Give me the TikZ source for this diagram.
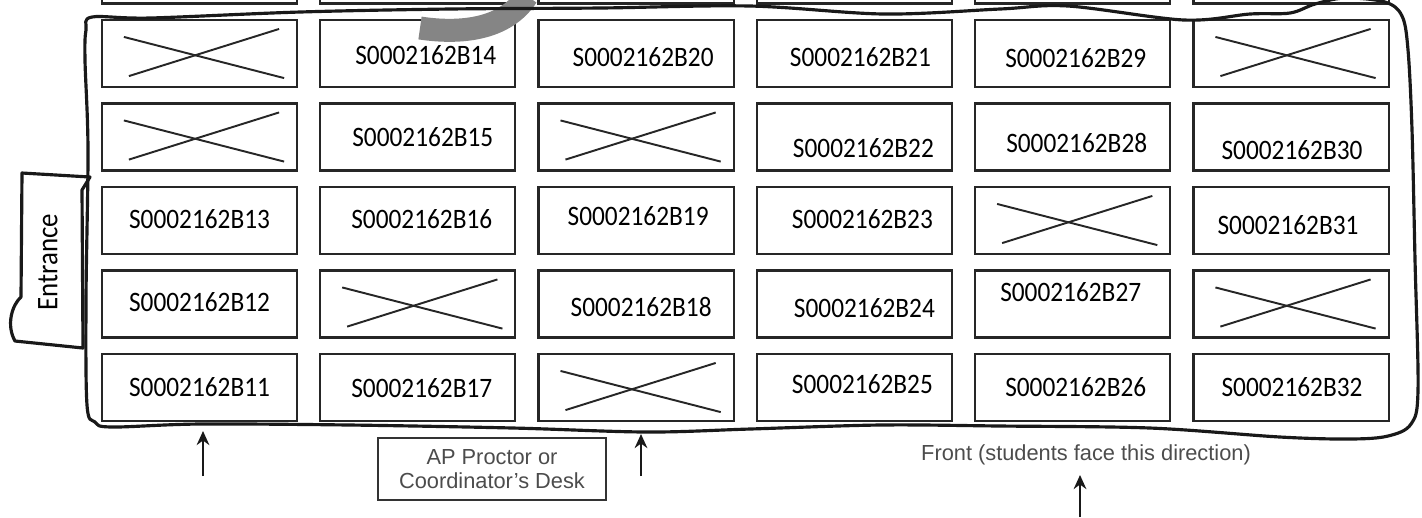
\documentclass[tikz,border=0pt]{standalone}
\usepackage{fontspec}
\setmainfont{Liberation Sans}
\newfontfamily\handfont[FakeStretch=0.9]{Carlito}
\usetikzlibrary{arrows.meta,calc,positioning}
\tikzset{every picture/.style={line width=0.6pt}}
\tikzset{
  desk/.style={draw=black!85, line width=0.6pt, minimum width=1.95cm, minimum height=0.67cm, inner sep=0pt},
  seatid/.style={font=\handfont\fontsize{8}{8}\selectfont, inner sep=0pt},
  wall/.style={draw=black!90, line width=0.9pt, line join=round},
  cross/.style={draw=black!85, line width=0.55pt},
  note/.style={font=\fontsize{6.2}{6.8}\selectfont, text=black!70, align=center},
  uparrow/.style={-{Stealth[length=4pt,width=3.6pt]}, line width=0.6pt, black!90}
}

\begin{document}
\begin{tikzpicture}[x=0.01cm, y=-0.01cm]
    \useasboundingbox (0,0) rectangle (1422,517);
    \clip (0,0) rectangle (1422,517);

    % Desks (row 0 is the cut-off row above)
    \foreach \r in {0,...,5}
        \foreach \c in {1,...,6}
            \node[desk] (d-\r-\c) at ({199.5+218.3*(\c-1)}, {53.5+83.5*(\r-1)}) {};

    % Crossed-out desks
    \foreach \r/\c in {1/1,1/6,2/1,2/3,3/5,4/2,4/6,5/3} {
        \draw[cross] ($(d-\r-\c.north west)+(23,18)$) -- ($(d-\r-\c.south east)+(-14,-10)$);
        \draw[cross] ($(d-\r-\c.south west)+(28,-12)$) -- ($(d-\r-\c.north east)+(-19,10)$);
    }

    % Seat numbers
    \foreach \r/\c/\n/\dx/\dy in {
        1/2/14/8/1.5, 1/3/20/7/3.5, 1/4/21/6/3.5, 1/5/29/3/4.5,
        2/2/15/5/0, 2/4/22/9/11, 2/5/28/4/6, 2/6/30/1/13,
        3/1/13/0/-1.5, 3/2/16/4/-1.5, 3/3/19/2/-4.5, 3/4/23/8/-1.5, 3/6/31/-3/4.5,
        4/1/12/0/-2, 4/3/18/5/3, 4/4/24/10/4, 4/5/27/-2/-12,
        5/1/11/0/0, 5/2/17/4/0.5, 5/4/25/8/-3.5, 5/5/26/3/0, 5/6/32/1/0}
        \node[seatid] at ($(d-\r-\c)+(\dx,\dy)$) {S0002162B\n};

    % Gray mark at the top
    \draw[black!48, line width=0.23cm] (420,28) .. controls (460,34) and (505,30) .. (527,-4);

    % Room outline
    \draw[wall] plot[smooth cycle, tension=0.55] coordinates {
        (86,30) (92,17) (150,18) (300,12) (450,9) (600,8) (750,6)
        (884,14) (1000,9) (1068,6) (1184,20) (1250,14) (1290,13)
        (1315,4) (1345,-2) (1385,2) (1402,16) (1408,50) (1412,130)
        (1415,260) (1418,390) (1411,424) (1388,436) (1350,439)
        (1280,437) (1150,428) (1000,426) (880,425) (750,429) (647,432)
        (513,428) (350,425) (200,424) (112,427) (95,422) (87,405)
        (86,300) (88,150) (85,60)
    };

    % Entrance
    \draw[wall] (22,173) -- (90,177) -- (82,190) -- (83,348) -- (15,341)
        .. controls (6,325) and (12,305) .. (21,297) -- cycle;
    \node[rotate=90, font=\handfont\fontsize{8.5}{8.5}\selectfont] (entrance) at (48,262) {Entrance};

    % Proctor desk and front
    \node[draw=black!80, note, minimum width=2.27cm, minimum height=0.62cm] (proctor) at (492,469)
        {AP Proctor or\\Coordinator's Desk};
    \node[note, inner sep=2.5pt] (front) at (1086,455) {Front (students face this direction)};

    % Arrows
    \coordinate (wall-a) at (203,431);
    \coordinate (foot-a) at (203,476);
    \coordinate (wall-b) at (641,434);
    \coordinate (foot-b) at (641,476);
    \coordinate (foot-c) at (1080,517);
    \draw[uparrow] (foot-a) -- (wall-a);
    \draw[uparrow] (foot-b) -- (wall-b);
    \draw[uparrow] (foot-c) -- (foot-c |- front.south);
\end{tikzpicture}
\end{document}
